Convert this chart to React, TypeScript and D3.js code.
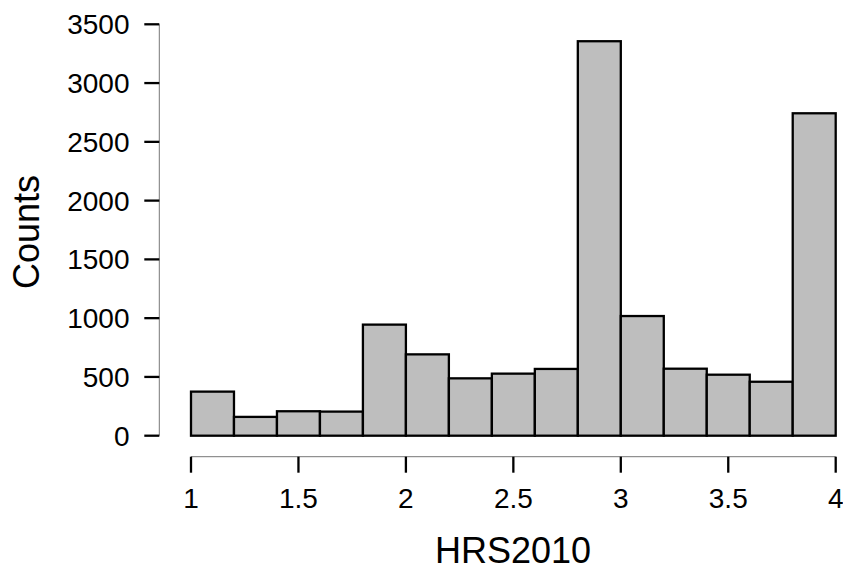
import React, {useEffect, useRef} from 'react';
import * as d3 from 'd3';

// histogram bins of width 0.2 from 1 to 4
const binStarts = [1, 1.2, 1.4, 1.6, 1.8, 2, 2.2, 2.4, 2.6, 2.8, 3, 3.2, 3.4, 3.6, 3.8];
const counts = [375, 160, 208, 205, 945, 692, 488, 528, 568, 3356, 1018, 570, 519, 459, 2743];
const binWidth = 0.2;
const xTicks = [1, 1.5, 2, 2.5, 3, 3.5, 4];
const yTicks = [0, 500, 1000, 1500, 2000, 2500, 3000, 3500];

const W = 843;
const H = 571;
const font = '"Liberation Sans", Arial, sans-serif';

export default function App() {
    const svgRef = useRef<SVGSVGElement>(null);

    useEffect(() => {
        const svg = d3.select(svgRef.current);
        svg.selectAll('*').remove();

        const x = d3.scaleLinear().domain([1, 4]).range([191, 835.7]);
        const y = d3.scaleLinear().domain([0, 3500]).range([435.7, 24.3]);

        // bars
        svg.append('g')
            .selectAll('rect')
            .data(binStarts)
            .join('rect')
            .attr('x', d => x(d))
            .attr('y', (d, i) => y(counts[i]))
            .attr('width', d => x(d + binWidth) - x(d))
            .attr('height', (d, i) => y(0) - y(counts[i]))
            .attr('fill', '#bebebe')
            .attr('stroke', 'black')
            .attr('stroke-width', 2.3);

        // y axis
        const yAxisX = 159.3;
        const gy = svg.append('g');
        gy.append('line')
            .attr('x1', yAxisX).attr('x2', yAxisX)
            .attr('y1', y(3500)).attr('y2', y(0))
            .attr('stroke', '#777').attr('stroke-width', 1);
        gy.selectAll('.tick')
            .data(yTicks)
            .join('line')
            .attr('x1', yAxisX - 15).attr('x2', yAxisX)
            .attr('y1', d => y(d)).attr('y2', d => y(d))
            .attr('stroke', 'black').attr('stroke-width', 2.3);
        gy.selectAll('text')
            .data(yTicks)
            .join('text')
            .attr('x', 129.5)
            .attr('y', d => y(d))
            .attr('dy', '0.36em')
            .attr('text-anchor', 'end')
            .style('font-family', font)
            .style('font-size', '28px')
            .text(d => d);

        // x axis
        const xAxisY = 456.7;
        const gx = svg.append('g');
        gx.append('line')
            .attr('x1', x(1)).attr('x2', x(4))
            .attr('y1', xAxisY).attr('y2', xAxisY)
            .attr('stroke', '#777').attr('stroke-width', 1);
        gx.selectAll('.tick')
            .data(xTicks)
            .join('line')
            .attr('x1', d => x(d)).attr('x2', d => x(d))
            .attr('y1', xAxisY).attr('y2', xAxisY + 16)
            .attr('stroke', 'black').attr('stroke-width', 2.3);
        gx.selectAll('text')
            .data(xTicks)
            .join('text')
            .attr('x', d => x(d))
            .attr('y', 507.7)
            .attr('text-anchor', 'middle')
            .style('font-family', font)
            .style('font-size', '28px')
            .text(d => d);

        // axis titles
        svg.append('text')
            .attr('x', 513)
            .attr('y', 563)
            .attr('text-anchor', 'middle')
            .style('font-family', font)
            .style('font-size', '36px')
            .text('HRS2010');
        svg.append('text')
            .attr('transform', 'translate(39,232) rotate(-90)')
            .attr('text-anchor', 'middle')
            .style('font-family', font)
            .style('font-size', '36px')
            .text('Counts');
    }, []);

    return (
        <svg ref={svgRef} width={W} height={H}
             style={{position: 'absolute', left: 0, top: 0, background: 'white'}}/>
    );
}
